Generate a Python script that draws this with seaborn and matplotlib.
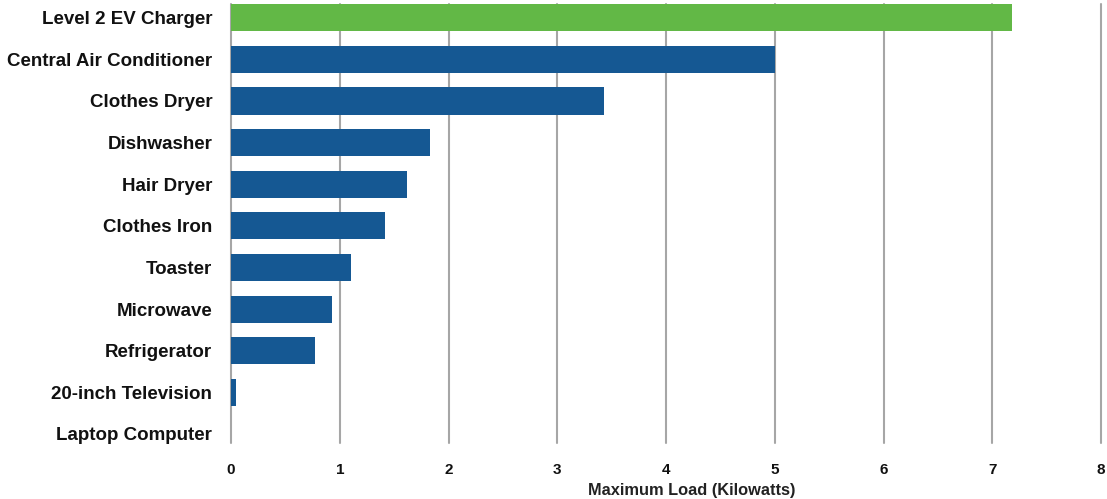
import matplotlib
matplotlib.use("Agg")
import matplotlib.pyplot as plt
import seaborn as sns
import pandas as pd

categories = ["Level 2 EV Charger", "Central Air Conditioner", "Clothes Dryer", "Dishwasher",
              "Hair Dryer", "Clothes Iron", "Toaster", "Microwave", "Refrigerator",
              "20-inch Television", "Laptop Computer"]
values = [7.18, 5.0, 3.43, 1.83, 1.62, 1.42, 1.1, 0.93, 0.77, 0.05, 0.0]
colors = ["#62b846"] + ["#155893"] * 10
x_ticks = [0, 1, 2, 3, 4, 5, 6, 7, 8]
x_label = "Maximum Load (Kilowatts)"

sns.set_theme(style="white")
plt.rcParams['font.family'] = ['Liberation Sans', 'DejaVu Sans']

df = pd.DataFrame({"appliance": categories, "load": values})

fig = plt.figure(figsize=(11.07, 4.99), dpi=100)
ax = fig.add_axes([0.2087, 0.112, 0.7859, 0.880])
sns.barplot(data=df, x="load", y="appliance", hue="appliance", palette=colors,
            order=categories, hue_order=categories, legend=False, width=0.65,
            saturation=1, linewidth=0, ax=ax)
ax.set_xlim(0, 8)
ax.set_ylim(10.22, -0.33)
ax.set_xticks(x_ticks)
ax.set_xticklabels([str(t) for t in x_ticks], fontsize=11, fontweight="bold", color="#111111")
ax.tick_params(axis="x", length=0, pad=14)
ax.tick_params(axis="y", length=0, pad=13.5)
for lbl in ax.get_yticklabels():
    lbl.set_fontsize(13.5)
    lbl.set_fontweight("bold")
    lbl.set_color("#111111")
ax.set_ylabel("")
ax.set_xlabel(x_label, fontsize=11.8, fontweight="bold", color="#222222")
ax.xaxis.set_label_coords(0.53, -0.09)
ax.xaxis.grid(True, color="#a6a6a6", linewidth=1.5)
for gl in ax.get_xgridlines():
    gl.set_clip_on(False)
ax.set_axisbelow(True)
for s in ax.spines.values():
    s.set_visible(False)

fig.savefig("out.png", dpi=100)
